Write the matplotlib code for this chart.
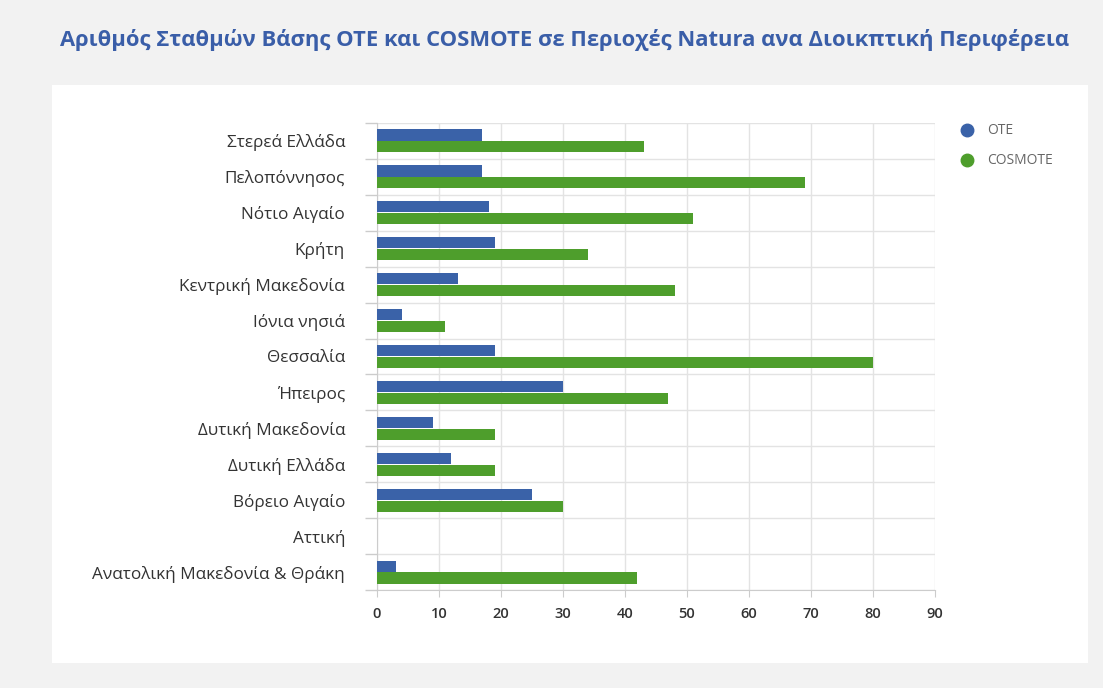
import matplotlib
matplotlib.use("Agg")
import matplotlib.pyplot as plt
from matplotlib.patches import Rectangle
import numpy as np

plt.rcParams['font.family'] = ['Open Sans', 'DejaVu Sans']

categories = ["Στερεά Ελλάδα", "Πελοπόννησος", "Νότιο Αιγαίο", "Κρήτη",
              "Κεντρική Μακεδονία", "Ιόνια νησιά", "Θεσσαλία", "Ήπειρος",
              "Δυτική Μακεδονία", "Δυτική Ελλάδα", "Βόρειο Αιγαίο", "Αττική",
              "Ανατολική Μακεδονία & Θράκη"]
ote = [17, 17, 18, 19, 13, 4, 19, 30, 9, 12, 25, 0, 3]
cosmote = [43, 69, 51, 34, 48, 11, 80, 47, 19, 19, 30, 0, 42]
series_names = ["OTE", "COSMOTE"]
x_ticks = [0, 10, 20, 30, 40, 50, 60, 70, 80, 90]
title = "Αριθμός Σταθμών Βάσης OTE και COSMOTE σε Περιοχές Natura ανα Διοικπτική Περιφέρεια"

c_ote = "#3a62a8"
c_cos = "#4e9e2c"

fig = plt.figure(figsize=(11.03, 6.88), dpi=100)
fig.patch.set_facecolor("#f2f2f2")
W, H = 1103, 688
panel = Rectangle((52 / W, (H - 663) / H), (1088 - 52) / W, (663 - 85) / H,
                  transform=fig.transFigure, facecolor="white",
                  edgecolor="none", zorder=-10)
fig.patches.append(panel)

fig.text(565 / W, 1 - 40 / H, title, ha="center", va="center", fontsize=15.8,
         fontweight="bold", color="#3a5ea8")

ax = fig.add_axes([377 / W, (H - 590) / H, (935 - 377) / W, (590 - 123) / H])
ax.set_zorder(1)
ax.set_facecolor("white")
n = len(categories)
y = np.arange(n)
bh = 0.31
ax.barh(y - bh / 2 - 0.01, ote, height=bh, color=c_ote, zorder=3, label=series_names[0])
ax.barh(y + bh / 2 + 0.01, cosmote, height=bh, color=c_cos, zorder=3, label=series_names[1])
ax.set_ylim(n - 0.5, -0.5)
ax.set_xlim(0, 90)
ax.set_yticks(y)
ax.set_yticklabels(categories, fontsize=12.3, color="#333333")
ax.tick_params(axis="y", length=0, pad=23)
ax.set_yticks(np.arange(-0.5, n, 1), minor=True)
ax.tick_params(axis="y", which="minor", length=9, color="#cccccc", width=1)
ax.set_xticks(x_ticks)
ax.set_xticklabels([str(v) for v in x_ticks], fontsize=10.5, color="#333333", fontweight="semibold")
ax.tick_params(axis="x", length=5, color="#cccccc", pad=7)
ax.grid(axis="x", color="#e3e3e3", linewidth=1, zorder=0)
ax.grid(axis="y", which="minor", color="#e3e3e3", linewidth=1, zorder=0)
ax.grid(axis="y", which="major", visible=False)
for s in ["top", "right"]:
    ax.spines[s].set_visible(False)
ax.spines["left"].set_color("#cccccc")
ax.spines["bottom"].set_color("#cccccc")

# legend
for i, (name, col) in enumerate(zip(series_names, [c_ote, c_cos])):
    yy = 1 - (130 + 30 * i) / H
    fig.lines.append(plt.Line2D([967 / W], [yy], marker="o", markersize=9,
                                color=col, linestyle="none", transform=fig.transFigure))
    fig.text(987 / W, yy, name, ha="left", va="center", fontsize=10, color="#666666")

fig.savefig("out.png", dpi=100, facecolor=fig.get_facecolor())
